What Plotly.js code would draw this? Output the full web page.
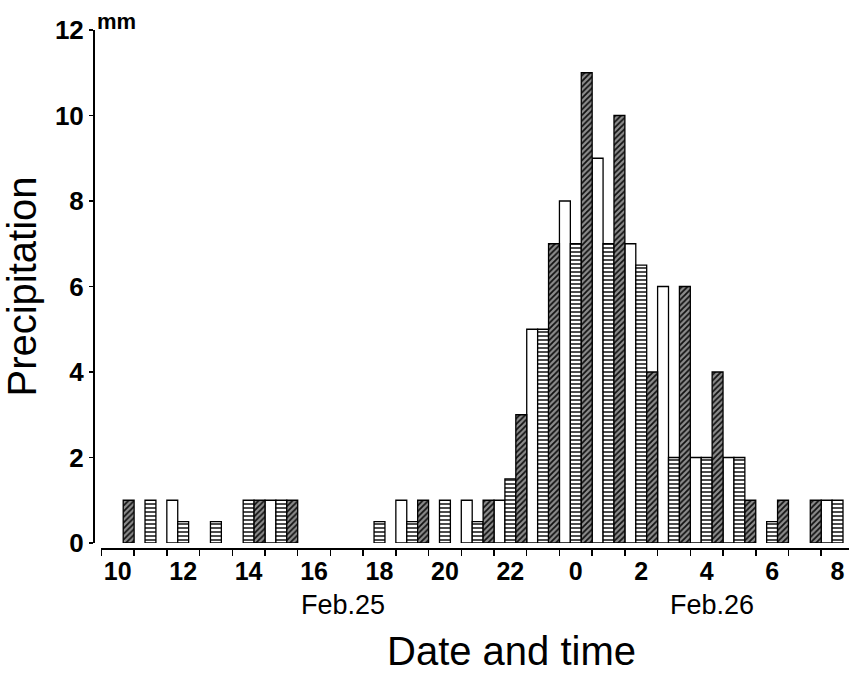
<!DOCTYPE html>
<html>
<head>
<meta charset="utf-8">
<script src="https://cdn.plot.ly/plotly-3.0.1.min.js"></script>
<style>
html,body{margin:0;padding:0;background:#fff;}
#chart{width:850px;height:679px;}
</style>
</head>
<body>
<div id="chart"></div>
<script>
// Hours from 10 h on Feb.25 to 8 h on Feb.26
const hours = ['10','11','12','13','14','15','16','17','18','19','20','21','22','23','0','1','2','3','4','5','6','7','8'];
// Tick labels (every second hour shown)
const tickLabels = ['10','','12','','14','','16','','18','','20','','22','','0','','2','','4','','6','','8'];
// Series values in mm (null = no bar)
const seriesWhite   = [null,null,1,null,null,1,null,null,null,1,null,1,1,5,8,9,7,6,2,2,null,null,1];
const seriesStriped = [null,1,0.5,0.5,1,1,null,null,0.5,0.5,1,0.5,1.5,5,7,7,6.5,2,2,2,0.5,null,1];
const seriesDark    = [1,null,null,null,1,1,null,null,null,1,null,1,3,7,11,10,4,6,4,1,1,1,null];
const yTicks = [0,2,4,6,8,10,12];

const FONT = 'Liberation Sans, Arial, Helvetica, sans-serif';
const outline = {color:'#000', width:1.3};

const traces = [
  {type:'bar', x:hours, y:seriesWhite, name:'white',
   marker:{color:'#ffffff', line:outline}},
  {type:'bar', x:hours, y:seriesStriped, name:'striped',
   marker:{color:'#ffffff', line:outline,
     pattern:{shape:'-', fgcolor:'#000', bgcolor:'#fff', size:4, solidity:0.35}}},
  {type:'bar', x:hours, y:seriesDark, name:'dark',
   marker:{color:'#555', line:outline,
     pattern:{shape:'/', fgcolor:'#111', bgcolor:'#8c8c8c', size:4, solidity:0.45}}}
];

const layout = {
  width:850, height:679,
  margin:{l:93, r:1, t:30, b:130},
  paper_bgcolor:'#fff', plot_bgcolor:'#fff',
  showlegend:false,
  barmode:'group', bargap:0, bargroupgap:0,
  font:{family:FONT, color:'#000', size:25},
  xaxis:{
    type:'category',
    domain:[0.0111, 1],
    anchor:'free', position:0,
    range:[-0.5, 22.35],
    tickmode:'array', tickvals:hours, ticktext:tickLabels,
    tickson:'boundaries', tickangle:0,
    ticks:'outside', ticklen:6, tickwidth:1.5, tickcolor:'#000',
    showline:true, linecolor:'#000', linewidth:2,
    showgrid:false, zeroline:false,
    tickfont:{family:FONT, size:25, color:'#000', weight:'bold'}
  },
  yaxis:{
    domain:[0.0116, 1],
    anchor:'free', position:0,
    range:[0,12],
    tickmode:'array', tickvals:yTicks,
    ticks:'outside', ticklen:4, tickwidth:1.5, tickcolor:'#000',
    showline:true, linecolor:'#000', linewidth:1.5,
    showgrid:false, zeroline:false,
    tickfont:{family:FONT, size:26, color:'#000', weight:'bold'},
    title:{text:'Precipitation', font:{family:FONT, size:40, color:'#000'}, standoff:4}
  },
  annotations:[
    {text:'<b>mm</b>', xref:'paper', yref:'paper', x:0.002, y:1.0, xanchor:'left', yanchor:'bottom',
     yshift:-6, showarrow:false, font:{family:FONT, size:22, color:'#000'}},
    {text:'Feb.25', xref:'x', yref:'paper', x:6.88, y:-0.075, xanchor:'center', yanchor:'top',
     showarrow:false, font:{family:FONT, size:27, color:'#000'}},
    {text:'Feb.26', xref:'x', yref:'paper', x:18.15, y:-0.075, xanchor:'center', yanchor:'top',
     showarrow:false, font:{family:FONT, size:27, color:'#000'}},
    {text:'Date and time', xref:'paper', yref:'paper', x:0.553, y:-0.197, xanchor:'center', yanchor:'middle',
     showarrow:false, font:{family:FONT, size:40, color:'#000'}}
  ]
};

Plotly.newPlot('chart', traces, layout, {displayModeBar:false, staticPlot:true});
</script>
</body>
</html>
